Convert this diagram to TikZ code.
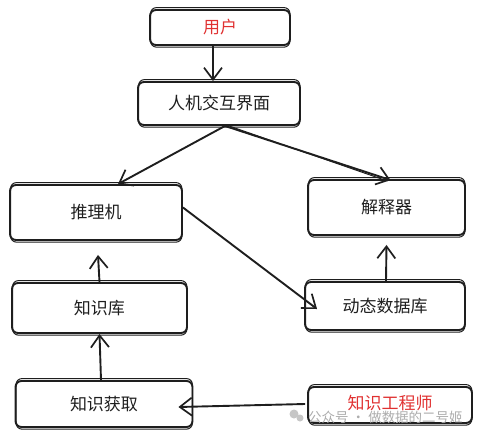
\documentclass[tikz,border=0pt]{standalone}
\usepackage{fontspec}
\setmainfont{Noto Sans CJK SC}
\usetikzlibrary{arrows.meta}
\definecolor{sketchred}{HTML}{E03131}
\definecolor{ink}{HTML}{1E1E1E}
\tikzset{
  box/.style={draw=ink, line width=1.9pt, rounded corners=6pt, inner sep=0pt,
    font=\fontsize{17}{19}\selectfont, text=ink},
  redtext/.style={text=sketchred},
  conn/.style={draw=ink, line width=1.9pt, -{Straight Barb[length=12pt,width=18pt,line width=1.7pt]}},
  echo/.style={draw=ink, line width=1pt, rounded corners=6pt},
}
\begin{document}
\begin{tikzpicture}[x=1pt,y=-1pt]
\useasboundingbox (0,0) rectangle (480,437);
% nodes
\node[box, redtext, minimum width=140pt, minimum height=35pt] (user) at (220,27.5) {用户};
\node[box, minimum width=162pt, minimum height=43pt] (ui) at (219,103.5) {人机交互界面};
\node[box, minimum width=172pt, minimum height=55pt] (infer) at (96,212.5) {推理机};
\node[box, minimum width=157pt, minimum height=55pt] (explain) at (386.5,207.5) {解释器};
\node[box, minimum width=175pt, minimum height=50pt] (kb) at (99.5,308) {知识库};
\node[box, minimum width=160pt, minimum height=48pt] (dyn) at (385,306) {动态数据库};
\node[box, minimum width=177pt, minimum height=46pt] (acq) at (104,404) {知识获取};
\node[box, redtext, minimum width=164pt, minimum height=36pt, text depth=6pt] (eng) at (390,405) {知识工程师};
% sketchy second strokes
\foreach \n in {user,ui,infer,explain,kb,dyn,acq,eng}{
  \draw[echo] ([shift={(1.5pt,-1.2pt)}]\n.south west) rectangle ([shift={(-1pt,1.5pt)}]\n.north east);
}
% connectors
\draw[conn] ([xshift=-7pt]user.south) -- ([xshift=-6pt]ui.north);
\coordinate (uiout) at ([xshift=6pt]ui.south);
\draw[conn] (uiout) -- ([xshift=22pt]infer.north);
\draw[conn] (uiout) -- ([xshift=4pt,yshift=-1pt]explain.north);
\draw[line width=1pt, draw=ink] ([xshift=10pt]ui.south) -- ([xshift=1pt,yshift=-2pt]explain.north);
\draw[conn] (kb.north) -- ([xshift=2pt,yshift=-14pt]infer.south);
\draw[conn] ([yshift=5pt]infer.east) -- ([xshift=13pt,yshift=-3pt]dyn.west);
\draw[conn] ([xshift=1pt]dyn.north) -- ([xshift=0pt,yshift=-9pt]explain.south);
\draw[conn] ([xshift=-3pt]acq.north) -- ([xshift=0pt]kb.south);
\draw[conn] ([xshift=-2pt,yshift=1pt]eng.west) -- ([xshift=-15pt,yshift=-3pt]acq.east);
% watermark
\node[fill=gray!45, circle, inner sep=0pt, minimum size=9pt] (wc1) at (294,414) {};
\node[fill=gray!45, circle, inner sep=0pt, minimum size=7pt] (wc2) at (300,418) {};
\node[anchor=west, text=gray!65, font=\fontsize{13.5}{15}\selectfont, inner sep=0pt] (wm) at (308,417) {公众号 · 做数据的二号姬};
\end{tikzpicture}
\end{document}
